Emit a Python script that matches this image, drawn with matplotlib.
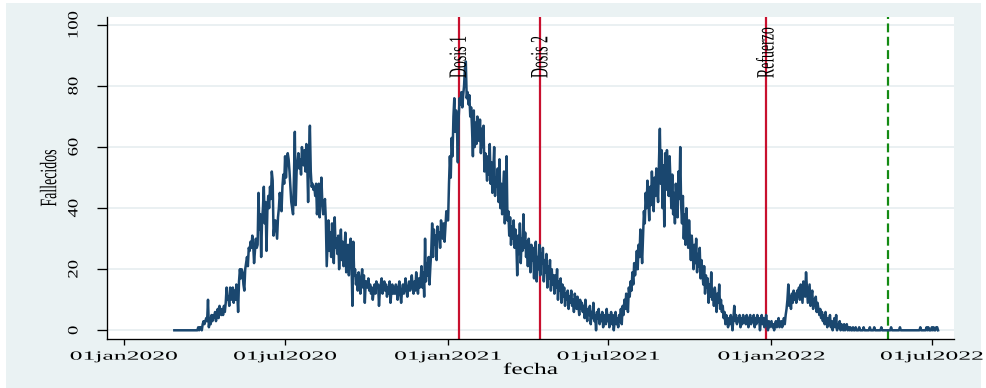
import matplotlib
matplotlib.use("Agg")
import matplotlib.pyplot as plt
from matplotlib.patheffects import AbstractPathEffect
from matplotlib.transforms import Affine2D
from matplotlib.patches import Rectangle
import pandas as pd

# ---------------- data ----------------
inicio_2020 = "2020-02-27"
fallecidos_2020 = [
    0, 0, 0,
    0, 0, 0, 0, 0, 0, 0, 0, 0, 0, 0, 0, 0, 0, 0, 0, 0, 0, 0, 0, 0, 0, 0, 0, 1, 0, 1, 1, 0, 2, 3,
    2, 3, 4, 3, 10, 1, 4, 2, 5, 3, 5, 4, 6, 3, 5, 7, 4, 8, 6, 5, 7, 5, 8, 6, 9, 14, 10, 11, 8, 14,
    10, 12, 14, 9, 13, 10, 15, 12, 6, 16, 20, 17, 20, 19, 15, 13, 20, 22, 24, 21, 27, 26, 29, 27, 31, 28, 22, 26, 30, 27, 28,
    45, 33, 38, 24, 36, 40, 47, 35, 42, 26, 39, 44, 40, 47, 43, 52, 49, 31, 34, 36, 33, 30, 37, 40, 45, 42, 39, 47, 51, 48,
    57, 50, 55, 58, 56, 52, 47, 42, 40, 38, 50, 65, 41, 52, 55, 58, 53, 56, 51, 60, 57, 54, 59, 52, 61, 55, 42, 58, 67, 52, 47,
    48, 46, 47, 44, 48, 38, 42, 48, 37, 44, 50, 42, 38, 40, 43, 36, 21, 29, 36, 26, 32, 24, 35, 29, 22, 37, 27, 30, 25, 31, 20,
    27, 33, 23, 29, 21, 26, 32, 19, 24, 28, 18, 25, 30, 22, 8, 29, 18, 20, 15, 18, 13, 19, 16, 12, 17, 20, 14, 18, 9, 16,
    16, 14, 17, 13, 15, 12, 14, 10, 13, 15, 12, 16, 14, 15, 8, 13, 15, 17, 12, 14, 16, 13, 15, 11, 14, 12, 16, 9, 13, 15, 12,
    14, 12, 15, 13, 10, 14, 16, 12, 9, 13, 15, 12, 14, 17, 13, 11, 14, 16, 13, 15, 18, 14, 12, 16, 13, 19, 15, 12, 17, 14,
    17, 21, 14, 19, 11, 30, 16, 22, 18, 24, 15, 21, 26, 35, 24, 33, 28, 31, 23, 34, 30, 32, 27, 36, 33, 30, 35, 29, 34, 39, 36,
]
inicio_2021 = "2021-01-01"
fallecidos_2021 = [
    36, 48, 57, 50, 63, 57, 70, 76, 65, 72, 66, 55, 70, 76, 74, 78, 73, 77, 80, 86, 88, 76, 78, 74, 77, 70, 73, 66, 57, 72, 60,
    68, 61, 70, 64, 62, 69, 58, 66, 60, 67, 52, 58, 54, 49, 57, 51, 61, 48, 55, 45, 52, 60, 44, 50, 47, 53, 42, 56,
    40, 48, 38, 45, 52, 35, 43, 57, 36, 39, 31, 37, 28, 34, 30, 36, 27, 33, 29, 18, 31, 25, 35, 22, 30, 26, 38, 27, 32, 24, 29,
    21, 30, 25, 19, 28, 23, 27, 17, 26, 29, 16, 24, 20, 28, 18, 25, 22, 27, 16, 23, 19, 25, 14, 21, 17, 23, 13, 20, 15, 18,
    12, 18, 14, 20, 10, 16, 13, 17, 9, 15, 11, 14, 8, 12, 10, 13, 7, 11, 9, 13, 8, 10, 6, 12, 9, 7, 11, 8, 5, 10, 7,
    9, 6, 8, 4, 10, 6, 3, 7, 5, 8, 2, 6, 4, 9, 3, 5, 0, 6, 4, 7, 2, 5, 3, 6, 1, 4, 5, 2, 7, 3,
    5, 1, 4, 6, 2, 5, 0, 3, 6, 2, 4, 1, 5, 3, 7, 2, 8, 5, 10, 7, 12, 9, 6, 14, 11, 16, 13, 19, 15, 22, 18,
    21, 26, 20, 28, 24, 33, 27, 22, 31, 39, 35, 45, 40, 49, 43, 36, 47, 41, 52, 45, 39, 50, 44, 53, 47, 42, 55, 66, 48, 59, 40,
    54, 34, 58, 46, 59, 52, 44, 57, 49, 40, 51, 38, 45, 35, 48, 42, 37, 52, 43, 60, 41, 35, 44, 30, 38, 28, 40, 33, 27, 36,
    29, 23, 31, 26, 20, 28, 22, 30, 19, 25, 21, 27, 17, 23, 19, 15, 21, 12, 18, 14, 17, 9, 15, 11, 19, 10, 13, 8, 14, 11, 6,
    12, 9, 15, 7, 10, 6, 8, 4, 6, 2, 5, 3, 1, 4, 2, 5, 3, 0, 4, 8, 3, 5, 2, 4, 3, 5, 1, 4, 2, 5,
    3, 4, 2, 5, 3, 1, 4, 5, 2, 4, 3, 5, 1, 4, 2, 5, 3, 4, 0, 3, 5, 2, 4, 1, 3, 5, 2, 0, 3, 1, 2,
]
inicio_2022 = "2022-01-01"
fallecidos_2022 = [
    3, 1, 2, 0, 2, 3, 1, 2, 4, 1, 2, 3, 1, 2, 4, 2, 5, 7, 10, 15, 8, 11, 7, 12, 9, 13, 10, 12, 9, 13, 11,
    14, 10, 15, 12, 9, 16, 13, 11, 19, 14, 9, 12, 15, 8, 11, 13, 7, 10, 8, 11, 6, 9, 7, 5, 7, 4, 6, 3,
    5, 2, 6, 3, 1, 4, 2, 5, 1, 3, 0, 2, 4, 1, 5, 0, 2, 1, 3, 0, 2, 1, 0, 2, 0, 1, 2, 0, 1, 0, 1,
    0, 0, 1, 0, 0, 1, 0, 0, 0, 1, 0, 0, 0, 0, 1, 0, 0, 0, 0, 0, 0, 1, 0, 0, 0, 0, 1, 0, 0, 0,
    0, 0, 0, 0, 1, 0, 0, 0, 0, 0, 0, 0, 0, 0, 0, 1, 0, 0, 0, 0, 0, 0, 0, 0, 0, 1, 0, 0, 0, 0, 0,
    0, 0, 0, 0, 0, 0, 0, 0, 0, 0, 0, 0, 0, 0, 0, 0, 0, 1, 0, 0, 0, 0, 0, 0, 1, 0, 1, 0, 0, 0,
    1, 0, 1, 0, 0, 1, 1, 0,
]

eventos = ["Dosis 1", "Dosis 2", "Refuerzo"]
fechas_eventos = ["2021-01-13", "2021-04-15", "2021-12-26"]
fecha_linea_verde = "2022-05-12"

ytick_vals = [0, 20, 40, 60, 80, 100]
xtick_fechas = ["2020-01-01", "2020-07-01", "2021-01-01", "2021-07-01", "2022-01-01", "2022-07-01"]
xtick_labels = ["01jan2020", "01jul2020", "01jan2021", "01jul2021", "01jan2022", "01jul2022"]
x_limites = ["2019-12-13", "2022-07-26"]
y_limites = [-2.85, 102.6]


# ------------- text stretch (text stays real text) -------------
class Stretch(AbstractPathEffect):
    def __init__(self, sx=1.0, sy=1.0):
        super().__init__()
        self.sx, self.sy = sx, sy

    def draw_path(self, renderer, gc, tpath, affine, rgbFace=None):
        ext = tpath.get_extents(affine)
        cx, cy = (ext.x0 + ext.x1) / 2, (ext.y0 + ext.y1) / 2
        tr = affine + Affine2D().translate(-cx, -cy).scale(self.sx, self.sy).translate(cx, cy)
        renderer.draw_path(gc, tpath, tr, rgbFace)


plt.rcParams["font.family"] = ["Liberation Serif", "DejaVu Serif"]

W, H = 987, 388
fig = plt.figure(figsize=(W / 100, H / 100), dpi=100)
fig.patch.set_facecolor("white")
fig.add_artist(Rectangle((6 / W, 0), (981 - 6) / W, (H - 3) / H, transform=fig.transFigure,
                         facecolor="#EAF2F3", edgecolor="none", zorder=-10))

ax = fig.add_axes([107 / W, (H - 339) / H, 847 / W, 322 / H])
ax.set_facecolor("white")

fechas = list(pd.date_range(inicio_2020, periods=len(fallecidos_2020), freq="D")) + \
         list(pd.date_range(inicio_2021, periods=len(fallecidos_2021), freq="D")) + \
         list(pd.date_range(inicio_2022, periods=len(fallecidos_2022), freq="D"))
valores = fallecidos_2020 + fallecidos_2021 + fallecidos_2022

ax.yaxis.grid(True, color="#E6EEF0", linewidth=1.2, zorder=0)
ax.set_axisbelow(True)

for nombre, f in zip(eventos, fechas_eventos):
    ax.axvline(pd.Timestamp(f), color="#C8102E", linewidth=1.6, zorder=2)
ax.axvline(pd.Timestamp(fecha_linea_verde), color="#138A13", linewidth=1.6,
           linestyle=(0, (4, 2)), zorder=2)

ax.plot(fechas, valores, color="#1A476F", linewidth=1.8, zorder=3)

anot = []
for nombre, f in zip(eventos, fechas_eventos):
    t = ax.text(pd.Timestamp(f), 82.6, nombre, rotation=90, ha="center", va="bottom",
                fontsize=10, color="black", zorder=4)
    anot.append(t)

ax.set_xlim(pd.Timestamp(x_limites[0]), pd.Timestamp(x_limites[1]))
ax.set_ylim(*y_limites)

ax.set_xticks([pd.Timestamp(d) for d in xtick_fechas], xtick_labels, fontsize=9)
ax.set_yticks(ytick_vals, [str(v) for v in ytick_vals], fontsize=13.4, rotation=90, va="center")

ax.tick_params(axis="x", length=4.1, width=0.95, pad=4.3, colors="black")
ax.tick_params(axis="y", length=7.2, width=0.95, pad=10.2, colors="black")

for s in ["top", "right"]:
    ax.spines[s].set_visible(False)
for s in ["left", "bottom"]:
    ax.spines[s].set_linewidth(0.95)
    ax.spines[s].set_color("black")

ax.set_xlabel("fecha", fontsize=11.6)
ax.xaxis.set_label_coords(0.5, -0.0714)
ax.set_ylabel("Fallecidos", fontsize=10)
ax.yaxis.set_label_coords(-0.0604, 0.5)

for t in ax.get_xticklabels():
    t.set_path_effects([Stretch(2.05, 1.0)])
for t in ax.get_yticklabels():
    t.set_path_effects([Stretch(0.77, 1.0)])
ax.xaxis.label.set_path_effects([Stretch(1.58, 1.0)])
ax.yaxis.label.set_path_effects([Stretch(1.7, 1.0)])
for t in anot:
    t.set_path_effects([Stretch(1.8, 1.0)])

fig.savefig("out.png", dpi=100, facecolor=fig.get_facecolor())
